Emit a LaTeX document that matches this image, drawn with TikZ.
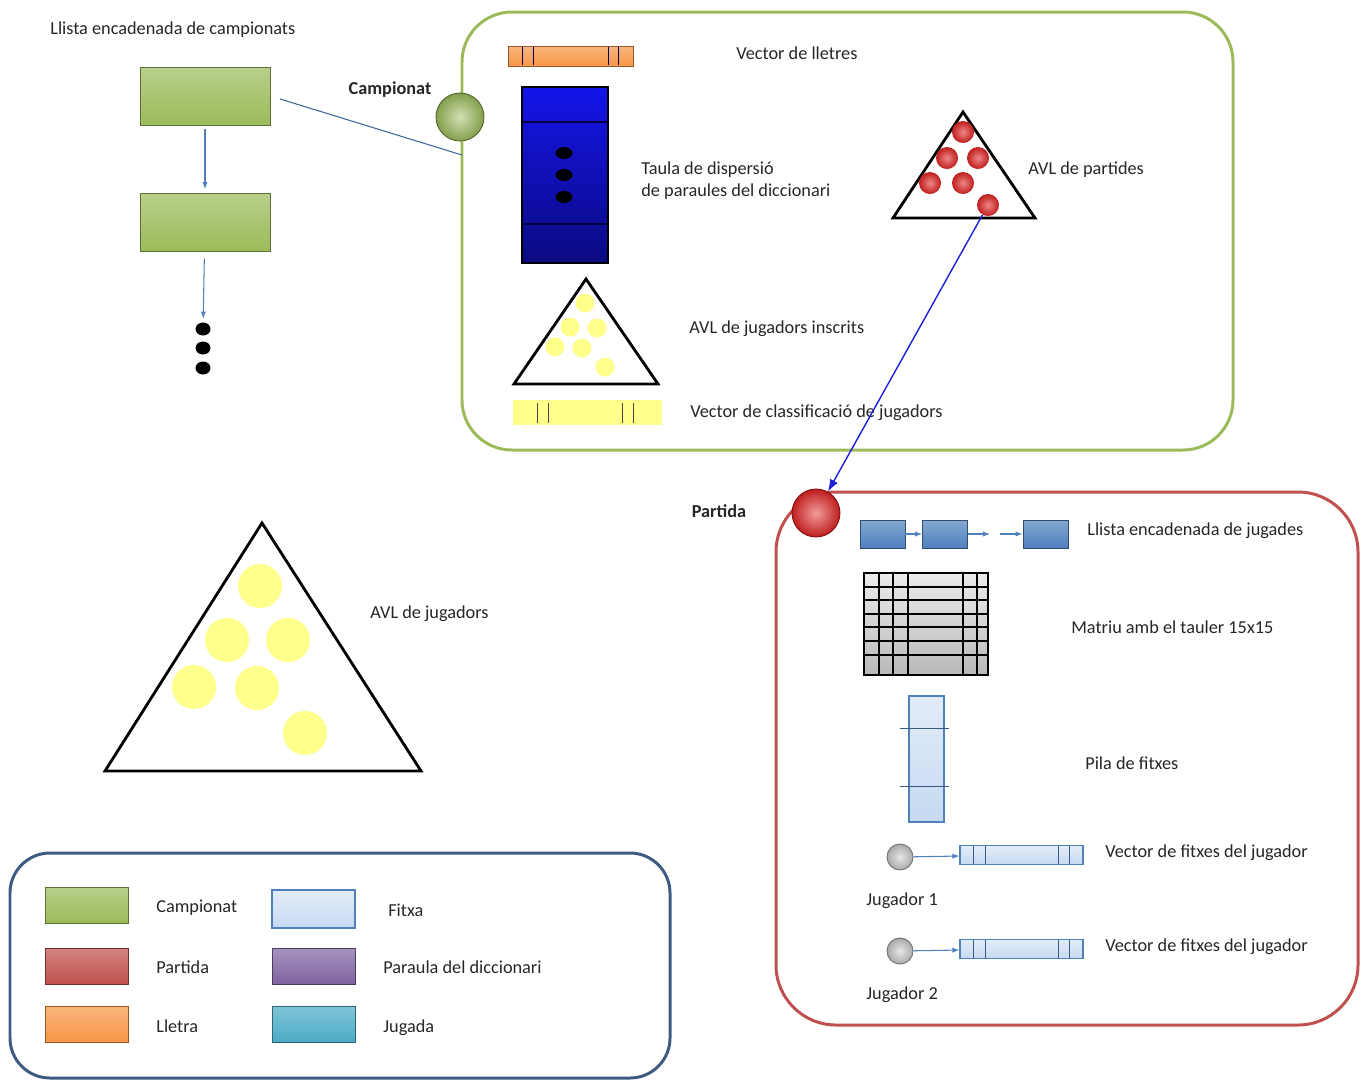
\documentclass[tikz,border=0pt]{standalone}
\usepackage{fontspec}
\setmainfont{Carlito}
\usetikzlibrary{positioning,arrows.meta,shapes.geometric}

\definecolor{campgreen}{RGB}{155,187,89}
\definecolor{partred}{RGB}{192,80,77}
\definecolor{lletorange}{RGB}{247,150,70}
\definecolor{fitxablue}{RGB}{198,217,241}
\definecolor{paraulapurple}{RGB}{128,100,162}
\definecolor{jugadacyan}{RGB}{75,172,198}
\definecolor{jugadablue}{RGB}{79,129,189}
\definecolor{dispblue}{RGB}{20,20,235}
\definecolor{avlyellow}{RGB}{255,255,140}
\definecolor{legendframe}{RGB}{60,90,130}
\definecolor{arrowblue}{RGB}{30,30,220}
\definecolor{jugadorgray}{RGB}{200,200,200}
\definecolor{leafred}{RGB}{225,35,35}

\def\pxu{0.02cm}

\tikzset{
  sz/.style 2 args={minimum width=#1*\pxu, minimum height=#2*\pxu, inner sep=0pt},
  txt/.style={anchor=west, inner sep=0pt, text=black!85, font=\fontsize{10.4}{12.5}\selectfont},
  boldtxt/.style={inner sep=0pt, text=black!85, font=\fontsize{10.4}{12.5}\selectfont\bfseries},
  tile/.style={rectangle, draw=#1!60!black, line width=0.4pt, top color=#1!70!white, bottom color=#1},
  fitxa/.style={rectangle, draw=jugadablue, line width=0.6pt, top color=fitxablue!50!white, bottom color=fitxablue},
  groupframe/.style={rectangle, draw=#1, line width=1.7pt},
  knob/.style={circle, draw=#1!55!black, line width=0.5pt, inner color=#1!45!white, outer color=#1!85!black},
  leaf/.style={circle, fill=#1, inner sep=0pt},
  redleaf/.style={circle, inner color=leafred!55!white, outer color=leafred!85!black, inner sep=0pt},
  tri/.style={draw=black, line width=1.6pt, line join=miter},
  link/.style={draw=jugadablue, line width=0.6pt, -{Latex[length=4pt,width=3pt]}},
  tick/.style={draw=blue!40!black, line width=0.5pt}
}

\begin{document}
\begin{tikzpicture}[x=\pxu,y=-\pxu]
\useasboundingbox (0,0) rectangle (1363,1080);

% llista encadenada de campionats
\node[txt] (titcamp) at (50,30) {Llista encadenada de campionats};
\node[tile=campgreen, sz={130}{58}] (camp1) at (205,96) {};
\node[tile=campgreen, sz={130}{58}] (camp2) at (205,222) {};
\foreach \i/\y in {1/329,2/348,3/368}
  \node[ellipse, fill=black, sz={15}{13}] (dot\i) at (203,\y) {};
\draw[link, shorten <=2pt, shorten >=2pt] (camp1) -- (camp2);
\draw[link, shorten <=4pt, shorten >=2pt] (camp2) -- (dot1);

% campionat
\node[groupframe=campgreen, sz={771}{438}, rounded corners=1cm] (campbox) at (847.5,231) {};
\node[knob=campgreen, sz={48}{48}] (campball) at (460,117) {};
\node[boldtxt] (campname) at (390,90) {Campionat};
\coordinate (campin) at (462,155);
\draw[jugadablue!80!black, line width=0.6pt, shorten <=0.2cm] (camp1.east) -- (campin);

\node[tile=lletorange, sz={125}{20}] (lletres) at (570.5,56) {};
\foreach \x in {522,533,608,618}
  \draw[tick] (\x,47) -- (\x,65);
\node[txt] (lletrestxt) at (736,53) {Vector de lletres};

\node[rectangle, draw=black, line width=0.6pt, top color=dispblue, bottom color=dispblue!55!black, sz={86}{176}] (taula) at (565,175) {};
\foreach \y in {122,224}
  \draw[blue!25!black, line width=1pt] (522,\y) -- (608,\y);
\foreach \i/\y in {1/153,2/175,3/197}
  \node[ellipse, fill=black, sz={17}{12}] (tdot\i) at (564,\y) {};
\node[txt, align=left] (taulatxt) at (641,181) {Taula de dispersió\\de paraules del diccionari};

\draw[tri] (963,112) -- (1035,218) -- (893,218) -- cycle;
\foreach \i/\x/\y in {1/963/132,2/947/158,3/978/158,4/930/183,5/963/183,6/988/205}
  \node[redleaf, sz={22}{22}] (pc\i) at (\x,\y) {};
\node[txt] (avlparttxt) at (1028,170) {AVL de partides};

\draw[tri] (586,279) -- (658,384) -- (514,384) -- cycle;
\foreach \i/\x/\y in {1/585/303,2/570/327,3/597/328,4/555/347,5/582/348,6/605/367}
  \node[leaf=avlyellow, sz={19}{19}] (yc\i) at (\x,\y) {};
\node[txt] (inscrtxt) at (689,329) {AVL de jugadors inscrits};

\node[rectangle, fill=avlyellow, sz={149}{25}] (classif) at (587.5,412.5) {};
\foreach \x in {537,548,622,633}
  \draw[black!70, line width=0.5pt] (\x,403) -- (\x,423);
\node[txt] (classiftxt) at (690,413) {Vector de classificació de jugadors};

% partida
\node[groupframe=partred, sz={582}{533}, rounded corners=1.2cm] (partbox) at (1067,758.5) {};
\node[knob=leafred, sz={48}{48}] (partball) at (816,513) {};
\node[boldtxt] (partname) at (719,511) {Partida};
\draw[arrowblue, line width=0.8pt, -{Latex[length=7pt,width=5pt]}] (pc6) -- (partball);

\node[tile=jugadablue, sz={45}{28}] (jug1) at (882.5,534) {};
\node[tile=jugadablue, sz={45}{28}] (jug2) at (945,534) {};
\node[tile=jugadablue, sz={45}{28}] (jug3) at (1045.5,534) {};
\coordinate (jugfree1) at (990,534);
\coordinate (jugfree2) at (1000,534);
\draw[link] (jug1) -- (jug2);
\draw[link] (jug2) -- (jugfree1);
\draw[link] (jugfree2) -- (jug3);
\node[txt] (jugtxt) at (1087,531) {Llista encadenada de jugades};

\node[rectangle, draw=black, line width=0.8pt, top color=gray!15, bottom color=gray!55, sz={124}{102}] (matriu) at (926,624) {};
\foreach \x in {879,893,908,963,977}
  \draw[black, line width=0.8pt] (\x,573) -- (\x,675);
\foreach \y in {587,600,614,627,641,655}
  \draw[black, line width=0.8pt] (864,\y) -- (988,\y);
\node[txt] (matriutxt) at (1071,627) {Matriu amb el tauler 15x15};

\node[fitxa, sz={35}{126}] (pila) at (926.5,759) {};
\foreach \y in {728,786}
  \draw[jugadablue!70!black, line width=0.5pt] (900,\y) -- (949,\y);
\node[txt] (pilatxt) at (1085,763) {Pila de fitxes};

\foreach \n/\y in {1/857,2/951}{
  \node[knob=jugadorgray, sz={26}{26}] (jugador\n) at (900,\y) {};
  \node[fitxa, sz={123}{19}] (vfitxes\n) at (1021.5,\y-2) {};
  \foreach \x in {973,985,1058,1069}
    \draw[jugadablue!70!black, line width=0.5pt] (\x,\y-11) -- (\x,\y+7);
  \draw[link] (jugador\n) -- (vfitxes\n);
  \node[txt] (vfitxestxt\n) at (1105,\y-4) {Vector de fitxes del jugador};
  \node[txt] (jugadortxt\n) at (866,\y+44) {Jugador \n};
}

% AVL de jugadors
\draw[tri] (262,523) -- (421,771) -- (105,771) -- cycle;
\foreach \i/\x/\y in {1/260/586,2/227/640,3/288/640,4/194/687,5/257/688,6/305/733}
  \node[leaf=avlyellow, sz={44}{44}] (bc\i) at (\x,\y) {};
\node[txt] (avljugtxt) at (370,614) {AVL de jugadors};

% llegenda
\node[groupframe=legendframe, sz={660}{225}, rounded corners=0.8cm] (legend) at (340,965.5) {};
\node[tile=campgreen, sz={83}{36}] (lgcamp) at (86.5,905) {};
\node[tile=partred, sz={83}{36}] (lgpart) at (86.5,966) {};
\node[tile=lletorange, sz={83}{36}] (lglletra) at (86.5,1024) {};
\node[fitxa, sz={83}{38}] (lgfitxa) at (313.5,909) {};
\node[tile=paraulapurple, sz={83}{36}] (lgparaula) at (313.5,966) {};
\node[tile=jugadacyan, sz={83}{36}] (lgjugada) at (313.5,1024) {};
\node[txt] (lgcamptxt) at (156,908) {Campionat};
\node[txt] (lgparttxt) at (156,967) {Partida};
\node[txt] (lglletratxt) at (156,1026) {Lletra};
\node[txt] (lgfitxatxt) at (388,910) {Fitxa};
\node[txt] (lgparaulatxt) at (383,967) {Paraula del diccionari};
\node[txt] (lgjugadatxt) at (383,1028) {Jugada};
\end{tikzpicture}
\end{document}
